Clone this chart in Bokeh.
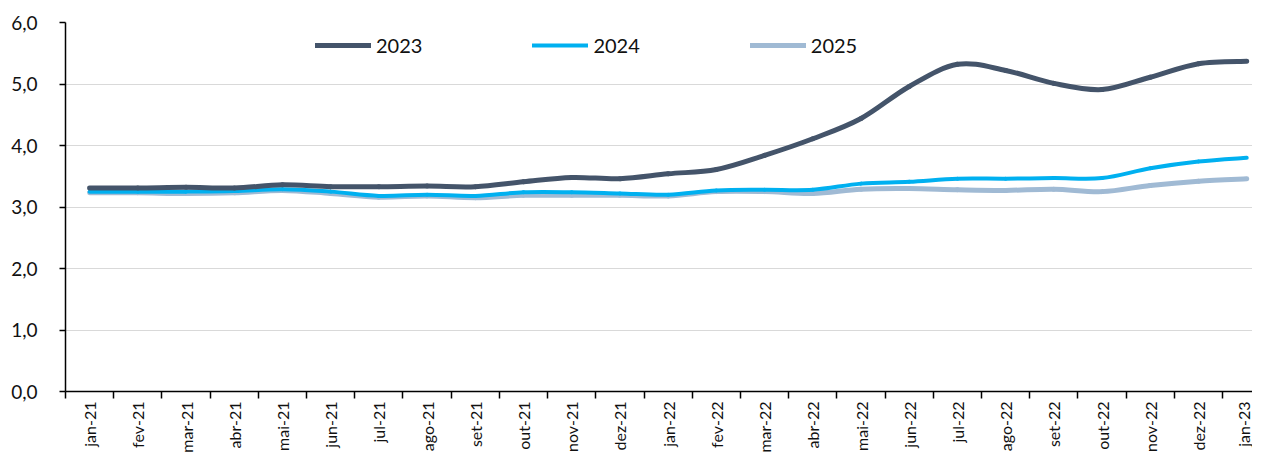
import math
from bokeh.plotting import figure
from bokeh.models import Range1d, FixedTicker, Legend, LegendItem, ColumnDataSource
from bokeh.embed import file_html
from bokeh.resources import INLINE

months = ["jan-21", "fev-21", "mar-21", "abr-21", "mai-21", "jun-21", "jul-21", "ago-21",
          "set-21", "out-21", "nov-21", "dez-21", "jan-22", "fev-22", "mar-22", "abr-22",
          "mai-22", "jun-22", "jul-22", "ago-22", "set-22", "out-22", "nov-22", "dez-22", "jan-23"]

s2023 = [3.31, 3.31, 3.32, 3.31, 3.36, 3.33, 3.33, 3.34, 3.33, 3.41, 3.48, 3.46, 3.54,
         3.61, 3.84, 4.11, 4.44, 4.96, 5.32, 5.22, 5.01, 4.91, 5.11, 5.33, 5.37]
s2024 = [3.25, 3.25, 3.25, 3.26, 3.29, 3.25, 3.18, 3.20, 3.18, 3.24, 3.24, 3.22, 3.20,
         3.27, 3.28, 3.28, 3.38, 3.41, 3.46, 3.46, 3.47, 3.47, 3.63, 3.74, 3.80]
s2025 = [3.23, 3.23, 3.22, 3.23, 3.27, 3.22, 3.16, 3.18, 3.15, 3.19, 3.19, 3.19, 3.18,
         3.25, 3.25, 3.22, 3.29, 3.30, 3.28, 3.27, 3.29, 3.25, 3.35, 3.42, 3.46]

series_names = ["2023", "2024", "2025"]
series_colors = ["#44546A", "#00B0F0", "#A0BAD4"]
series_widths = [5, 4, 5]

y_ticks = [0, 1, 2, 3, 4, 5, 6]
y_tick_labels = ["0,0", "1,0", "2,0", "3,0", "4,0", "5,0", "6,0"]

FONT = "Lato"

p = figure(width=1252, height=455, output_backend="svg", toolbar_location=None,
           x_range=Range1d(-0.5, 24.12), y_range=Range1d(0, 6))
p.min_border_left = 65
p.min_border_right = 0
p.min_border_top = 22
p.min_border_bottom = 0
p.outline_line_color = None
p.background_fill_color = "white"
p.border_fill_color = "white"

xs = list(range(len(months)))


def bezier_source(vals):
    n = len(vals)
    x0, y0, x1, y1, cx0, cy0, cx1, cy1 = [], [], [], [], [], [], [], []
    for i in range(n - 1):
        xp = xs[i - 1] if i > 0 else xs[i]
        yp = vals[i - 1] if i > 0 else vals[i]
        xn = xs[i + 2] if i + 2 < n else xs[i + 1]
        yn = vals[i + 2] if i + 2 < n else vals[i + 1]
        x0.append(xs[i]); y0.append(vals[i])
        x1.append(xs[i + 1]); y1.append(vals[i + 1])
        cx0.append(xs[i] + (xs[i + 1] - xp) / 6.0)
        cy0.append(vals[i] + (vals[i + 1] - yp) / 6.0)
        cx1.append(xs[i + 1] - (xn - xs[i]) / 6.0)
        cy1.append(vals[i + 1] - (yn - vals[i]) / 6.0)
    return ColumnDataSource(dict(x0=x0, y0=y0, x1=x1, y1=y1, cx0=cx0, cy0=cy0, cx1=cx1, cy1=cy1))


items = []
for name, vals, col, w in reversed(list(zip(series_names, [s2023, s2024, s2025], series_colors, series_widths))):
    src = bezier_source(vals)
    r = p.bezier(x0="x0", y0="y0", x1="x1", y1="y1", cx0="cx0", cy0="cy0", cx1="cx1", cy1="cy1",
                 source=src, line_color=col, line_width=w, line_cap="round")
    items.append((name, r))
items.reverse()

legend = Legend(items=[LegendItem(label=n, renderers=[r]) for n, r in items],
                orientation="horizontal", location=(250, 334))
legend.border_line_color = None
legend.background_fill_alpha = 0
legend.padding = 0
legend.margin = 0
legend.glyph_width = 56
legend.glyph_height = 20
legend.label_standoff = 5
legend.label_width = 46
legend.spacing = 110
legend.label_text_font = FONT
legend.label_text_font_size = "20px"
legend.label_text_color = "#111111"
p.add_layout(legend, "center")

# y axis
p.yaxis.ticker = FixedTicker(ticks=y_ticks)
p.yaxis.major_label_overrides = {t: l for t, l in zip(y_ticks, y_tick_labels)}
p.yaxis.major_label_text_font = FONT
p.yaxis.major_label_text_font_size = "19px"
p.yaxis.major_label_text_color = "#111111"
p.yaxis.axis_line_color = "black"
p.yaxis.axis_line_width = 1.5
p.yaxis.major_tick_line_color = "black"
p.yaxis.major_tick_line_width = 1.5
p.yaxis.major_tick_out = 6
p.yaxis.major_tick_in = 0
p.yaxis.minor_tick_line_color = None
p.yaxis.major_label_standoff = 22
p.ygrid.grid_line_color = "#D9D9D9"
p.ygrid.grid_line_width = 1
p.ygrid.ticker = FixedTicker(ticks=y_ticks[1:])

# x axis
p.xaxis.ticker = FixedTicker(ticks=xs, minor_ticks=[i - 0.5 for i in xs] + [len(xs) - 0.5])
p.xaxis.major_label_overrides = {i: m for i, m in enumerate(months)}
p.xaxis.major_label_orientation = math.pi / 2
p.xaxis.major_label_text_font = FONT
p.xaxis.major_label_text_font_size = "16px"
p.xaxis.major_label_text_color = "#111111"
p.xaxis.major_label_standoff = 3
p.xaxis.axis_line_color = "black"
p.xaxis.axis_line_width = 1.5
p.xaxis.major_tick_line_color = None
p.xaxis.major_tick_out = 0
p.xaxis.major_tick_in = 0
p.xaxis.minor_tick_line_color = "black"
p.xaxis.minor_tick_line_width = 1.5
p.xaxis.minor_tick_out = 7
p.xaxis.minor_tick_in = 0
p.xgrid.grid_line_color = None

open("out.html", "w").write(file_html(p, INLINE))
